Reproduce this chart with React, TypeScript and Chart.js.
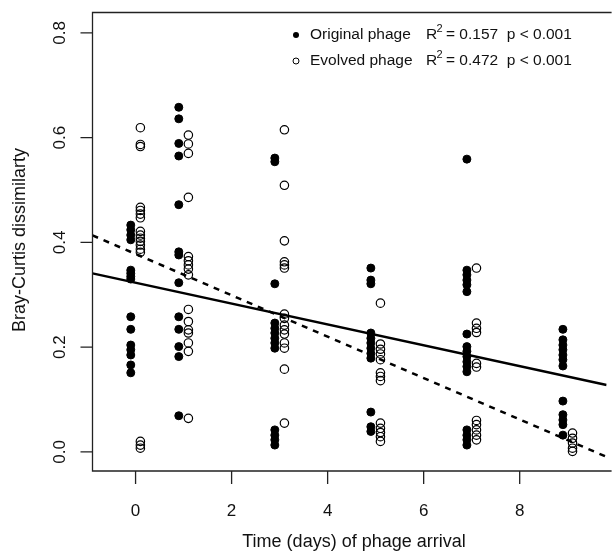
import React, { useEffect, useRef } from "react";
import { Chart, registerables } from "chart.js";

Chart.register(...registerables);

// ---- data ----
const DAYS = [0, 1, 3, 5, 7, 9];
const ORIGINAL_OFFSET = -0.1;
const EVOLVED_OFFSET = 0.1;

const ORIGINAL_D0 = [0.433, 0.424, 0.414, 0.405, 0.347, 0.341, 0.335, 0.33, 0.258, 0.234, 0.204, 0.195, 0.185, 0.166, 0.151];
const ORIGINAL_D1 = [0.658, 0.636, 0.589, 0.565, 0.472, 0.382, 0.376, 0.323, 0.258, 0.234, 0.201, 0.182, 0.069];
const ORIGINAL_D3 = [0.561, 0.554, 0.321, 0.246, 0.236, 0.227, 0.217, 0.208, 0.198, 0.042, 0.032, 0.023, 0.013];
const ORIGINAL_D5 = [0.351, 0.328, 0.321, 0.227, 0.217, 0.208, 0.198, 0.188, 0.179, 0.076, 0.048, 0.039];
const ORIGINAL_D7 = [0.559, 0.347, 0.338, 0.328, 0.319, 0.306, 0.225, 0.201, 0.192, 0.182, 0.172, 0.163, 0.153, 0.042, 0.032, 0.023, 0.013];
const ORIGINAL_D9 = [0.234, 0.214, 0.204, 0.195, 0.185, 0.176, 0.164, 0.097, 0.071, 0.061, 0.052, 0.032];
const ORIGINAL = [ORIGINAL_D0, ORIGINAL_D1, ORIGINAL_D3, ORIGINAL_D5, ORIGINAL_D7, ORIGINAL_D9];

const EVOLVED_D0 = [0.619, 0.587, 0.583, 0.467, 0.461, 0.454, 0.447, 0.421, 0.414, 0.408, 0.402, 0.395, 0.387, 0.381, 0.02, 0.013, 0.007];
const EVOLVED_D1 = [0.605, 0.588, 0.57, 0.486, 0.373, 0.365, 0.357, 0.349, 0.338, 0.272, 0.249, 0.233, 0.227, 0.208, 0.192, 0.064];
const EVOLVED_D3 = [0.615, 0.509, 0.403, 0.363, 0.357, 0.351, 0.263, 0.255, 0.242, 0.233, 0.225, 0.208, 0.198, 0.158, 0.055];
const EVOLVED_D5 = [0.284, 0.206, 0.196, 0.187, 0.176, 0.151, 0.144, 0.136, 0.055, 0.045, 0.037, 0.029, 0.02];
const EVOLVED_D7 = [0.351, 0.246, 0.236, 0.228, 0.169, 0.162, 0.06, 0.052, 0.042, 0.032, 0.023];
const EVOLVED_D9 = [0.036, 0.026, 0.017, 0.007, 0.001];
const EVOLVED = [EVOLVED_D0, EVOLVED_D1, EVOLVED_D3, EVOLVED_D5, EVOLVED_D7, EVOLVED_D9];

// regression fits: [intercept, slope]
const ORIGINAL_FIT = [0.323, -0.0199];
const EVOLVED_FIT = [0.378, -0.0395];

const X_TICKS = [0, 2, 4, 6, 8];
const Y_TICKS = [0, 0.2, 0.4, 0.6, 0.8];
const X_MIN = -0.897;
const X_MAX = 9.81;
const Y_MIN = -0.0365;
const Y_MAX = 0.839;

const LEGEND_ROWS = [
  { name: "Original phage", r2: "= 0.157  p < 0.001", filled: true },
  { name: "Evolved phage", r2: "= 0.472  p < 0.001", filled: false },
];
const X_TITLE = "Time (days) of phage arrival";
const Y_TITLE = "Bray-Curtis dissimilarty";

const FONT = '"Liberation Sans", Arial, Helvetica, sans-serif';

function buildPoints(groups: number[][], offset: number) {
  const pts: { x: number; y: number }[] = [];
  groups.forEach((vals, i) => {
    vals.forEach((v) => pts.push({ x: DAYS[i] + offset, y: v }));
  });
  return pts;
}

function fitLine(fit: number[]) {
  return [
    { x: X_MIN, y: fit[0] + fit[1] * X_MIN },
    { x: X_MAX, y: fit[0] + fit[1] * X_MAX },
  ];
}

const axesPlugin = {
  id: "rAxes",
  afterDraw(chart: any) {
    const { ctx, chartArea } = chart;
    const xs = chart.scales.x;
    const ys = chart.scales.y;
    const L = chartArea.left;
    const T = chartArea.top;
    const B = chartArea.bottom;
    const R = chartArea.right;
    ctx.save();
    ctx.strokeStyle = "#222";
    ctx.lineWidth = 1.3;
    ctx.beginPath();
    ctx.moveTo(R + 5, T);
    ctx.lineTo(L, T);
    ctx.lineTo(L, B);
    ctx.lineTo(R + 5, B);
    ctx.stroke();

    // ticks
    ctx.beginPath();
    X_TICKS.forEach((v) => {
      const px = xs.getPixelForValue(v);
      ctx.moveTo(px, B);
      ctx.lineTo(px, B + 13);
    });
    Y_TICKS.forEach((v) => {
      const py = ys.getPixelForValue(v);
      ctx.moveTo(L, py);
      ctx.lineTo(L - 12, py);
    });
    ctx.stroke();

    ctx.fillStyle = "#111";
    ctx.font = `17px ${FONT}`;
    ctx.textAlign = "center";
    ctx.textBaseline = "middle";
    X_TICKS.forEach((v) => {
      ctx.fillText(String(v), xs.getPixelForValue(v), 511);
    });
    Y_TICKS.forEach((v) => {
      ctx.save();
      ctx.translate(60, ys.getPixelForValue(v));
      ctx.rotate(-Math.PI / 2);
      ctx.fillText(v.toFixed(1), 0, 0);
      ctx.restore();
    });

    ctx.font = `18px ${FONT}`;
    ctx.fillText(X_TITLE, 354, 542);
    ctx.save();
    ctx.translate(20, 240);
    ctx.rotate(-Math.PI / 2);
    ctx.fillText(Y_TITLE, 0, 0);
    ctx.restore();

    // legend
    LEGEND_ROWS.forEach((row, i) => {
      const cy = 35 + i * 26;
      ctx.beginPath();
      ctx.arc(296, cy, 3, 0, Math.PI * 2);
      if (row.filled) {
        ctx.fillStyle = "#000";
        ctx.fill();
      } else {
        ctx.lineWidth = 1;
        ctx.strokeStyle = "#000";
        ctx.stroke();
      }
      ctx.fillStyle = "#111";
      ctx.textAlign = "left";
      ctx.textBaseline = "middle";
      ctx.font = `15.5px ${FONT}`;
      ctx.fillText(row.name, 310, cy);
      ctx.fillText("R", 426, cy);
      ctx.fillText(row.r2, 446, cy);
      ctx.font = `11px ${FONT}`;
      ctx.fillText("2", 436.5, cy - 6);
    });
    ctx.restore();
  },
};

export default function App() {
  const ref = useRef<HTMLCanvasElement | null>(null);
  useEffect(() => {
    if (!ref.current) return;
    const chart = new Chart(ref.current, {
      type: "scatter",
      data: {
        datasets: [
          {
            data: fitLine(ORIGINAL_FIT),
            showLine: true,
            borderColor: "#000",
            borderWidth: 2.5,
            pointRadius: 0,
            fill: false,
          },
          {
            data: fitLine(EVOLVED_FIT),
            showLine: true,
            borderColor: "#000",
            borderWidth: 2.5,
            borderDash: [6, 6],
            pointRadius: 0,
            fill: false,
          },
          {
            data: buildPoints(ORIGINAL, ORIGINAL_OFFSET),
            pointRadius: 4,
            pointBackgroundColor: "#000",
            pointBorderColor: "#000",
            pointBorderWidth: 1,
          },
          {
            data: buildPoints(EVOLVED, EVOLVED_OFFSET),
            pointRadius: 4.2,
            pointBackgroundColor: "rgba(0,0,0,0)",
            pointBorderColor: "#000",
            pointBorderWidth: 1.2,
          },
        ],
      },
      options: {
        responsive: false,
        animation: false,
        layout: { padding: { left: 92.5, top: 12.5, right: 0, bottom: 85 } },
        plugins: { legend: { display: false }, tooltip: { enabled: false } },
        scales: {
          x: { type: "linear", display: false, min: X_MIN, max: X_MAX },
          y: { type: "linear", display: false, min: Y_MIN, max: Y_MAX },
        },
      },
      plugins: [axesPlugin],
    });
    return () => chart.destroy();
  }, []);
  return (
    <div style={{ position: "absolute", left: 0, top: 0, width: 612, height: 556, background: "#fff" }}>
      <canvas ref={ref} width={612} height={556} style={{ display: "block" }} />
    </div>
  );
}
